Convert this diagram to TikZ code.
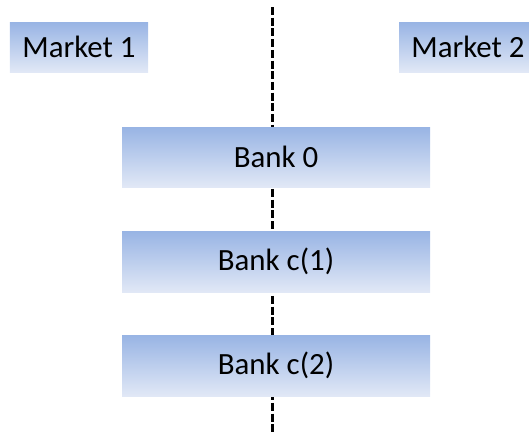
\documentclass[tikz,border=0pt]{standalone}
\usepackage{fontspec}
\setmainfont{Carlito}
\definecolor{topc}{RGB}{152,180,228}
\definecolor{botc}{RGB}{225,232,246}
\tikzset{
  box/.style={rectangle, inner sep=0pt, top color=topc, bottom color=botc, draw=none,
    font=\fontsize{31}{36}\selectfont, text=black},
  divider/.style={draw=black, line width=3bp, dash pattern=on 8bp off 2.7bp}
}
\begin{document}
\begin{tikzpicture}[x=1bp,y=-1bp]
\useasboundingbox (0,0) rectangle (529,432);
\coordinate (top) at (272,7);
\coordinate (bot) at (272,432);
\draw[divider] (top) -- (bot);
\node[box, minimum width=138bp, minimum height=50bp] (m1) at (79,47) {Market 1};
\node[box, minimum width=138bp, minimum height=50bp] (m2) at (468,47) {Market 2};
\node[box, minimum width=308bp, minimum height=60bp] (b0) at (276,157) {Bank 0};
\node[box, minimum width=308bp, minimum height=61bp] (b1) at (276,261.5) {Bank c(1)};
\node[box, minimum width=308bp, minimum height=61bp] (b2) at (276,365.5) {Bank c(2)};
\end{tikzpicture}
\end{document}
